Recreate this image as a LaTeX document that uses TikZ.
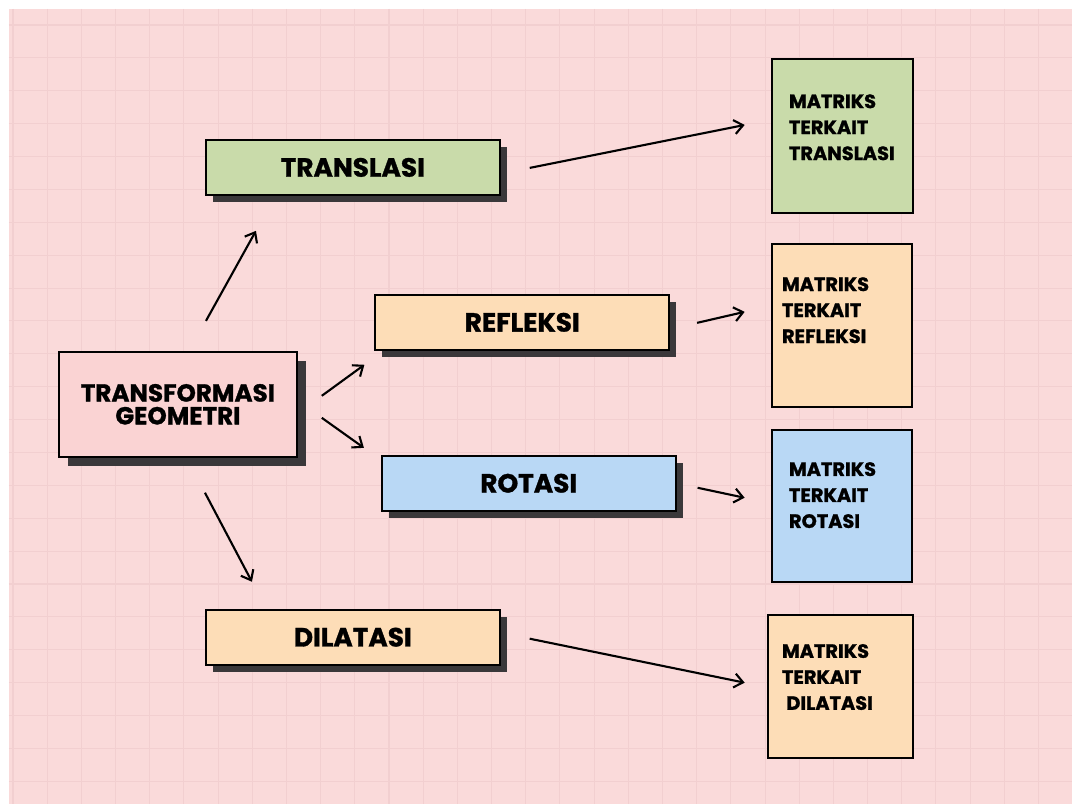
\documentclass[tikz,border=0pt]{standalone}
\usepackage{fontspec}
\setmainfont{Poppins}[BoldFeatures={FakeBold=1.2}]
\usetikzlibrary{arrows.meta,positioning,calc,shadows}
\definecolor{bgpink}{RGB}{250,218,218}
\definecolor{gridpink}{RGB}{242,207,208}
\definecolor{tgpink}{RGB}{250,211,211}
\definecolor{tgreen}{RGB}{201,219,170}
\definecolor{tpeach}{RGB}{253,221,183}
\definecolor{tblue}{RGB}{185,216,245}
\definecolor{tshadow}{RGB}{58,56,58}
\tikzset{
  hardshadow/.style={drop shadow={shadow xshift=#1, shadow yshift=-#1,
                     fill=tshadow, opacity=1}},
  topic/.style={draw=black, line width=1.1pt, fill=#1, inner sep=0pt,
                font=\fontsize{15}{16}\selectfont\bfseries,
                minimum width=5.88cm, minimum height=1.1cm, hardshadow=0.14cm},
  root/.style={draw=black, line width=1.1pt, fill=#1, inner sep=0pt, align=center,
               font=\fontsize{14}{13}\selectfont\bfseries,
               minimum width=4.76cm, minimum height=2.1cm, hardshadow=0.18cm},
  mbox/.style={draw=black, line width=1.1pt, fill=#1, inner sep=0pt},
  mtext/.style={anchor=north west, inner sep=0pt, align=left,
                font=\fontsize{11}{14.8}\selectfont\bfseries},
  arr/.style={-{Straight Barb[length=5pt,width=8pt]}, line width=1.2pt, black},
}

\begin{document}
\begin{tikzpicture}[x=0.02cm, y=-0.02cm]

% Paper with grid
\fill[white] (0,0) rectangle (1073,804);
\fill[bgpink] (9,9) rectangle (1073,804);
\foreach \i in {0,...,30}
  \draw[gridpink, line width=0.6pt] (13+34.2*\i,9) -- (13+34.2*\i,804);
\foreach \j in {0,...,23}
  \draw[gridpink, line width=0.6pt] (9,25+32.9*\j) -- (1073,25+32.9*\j);

% Root
\node[root=tgpink] (tg) at (178,404.5) {TRANSFORMASI\\GEOMETRI};

% Kinds of transformation
\node[topic=tgreen] (tl) at (353,167.5) {TRANSLASI};
\node[topic=tpeach] (rf) at (522.5,322.5) {REFLEKSI};
\node[topic=tblue]  (rt) at (529,483.5) {ROTASI};
\node[topic=tpeach] (dl) at (353,637.5) {DILATASI};

% Matrix boxes
\node[mbox=tgreen, minimum width=2.82cm, minimum height=3.08cm] (mtl) at (842.5,136) {};
\node[mbox=tpeach, minimum width=2.8cm, minimum height=3.26cm] (mrf) at (842,325.5) {};
\node[mbox=tblue,  minimum width=2.8cm, minimum height=3.04cm] (mrt) at (842,506) {};
\node[mbox=tpeach, minimum width=2.9cm, minimum height=2.86cm] (mdl) at (840.5,686.5) {};

\node[mtext] (mtl-t) at ($(mtl.north west)+(18,36)$) {MATRIKS\\TERKAIT\\TRANSLASI};
\node[mtext] (mrf-t) at ($(mrf.north west)+(11,34)$) {MATRIKS\\TERKAIT\\REFLEKSI};
\node[mtext] (mrt-t) at ($(mrt.north west)+(18,33)$) {MATRIKS\\TERKAIT\\ROTASI};
\node[mtext] (mdl-t) at ($(mdl.north west)+(15,30)$) {MATRIKS\\TERKAIT\\\hspace*{2.5pt}DILATASI};

% Arrows
\draw[arr] ($(tg.north west)+(148,-30)$) -- ($(tl.south west)+(51,35)$);
\draw[arr] ($(tg.east)+(24,-8.5)$) -- ($(rf.south west)+(-10,14)$);
\draw[arr] ($(tg.east)+(24,13.5)$) -- ($(rt.north west)+(-17,-7)$);
\draw[arr] ($(tg.south west)+(147,35)$) -- ($(dl.north west)+(47,-27)$);
\draw[arr] ($(tl.east)+(29,0.5)$) -- ($(mtl.west)+(-26,-11)$);
\draw[arr] ($(rf.east)+(27,0.5)$) -- ($(mrf.west)+(-26,-13.5)$);
\draw[arr] ($(rt.east)+(21,4.5)$) -- ($(mrt.west)+(-26,-8)$);
\draw[arr] ($(dl.east)+(29,1.5)$) -- ($(mdl.west)+(-22,-3.5)$);

\end{tikzpicture}
\end{document}
